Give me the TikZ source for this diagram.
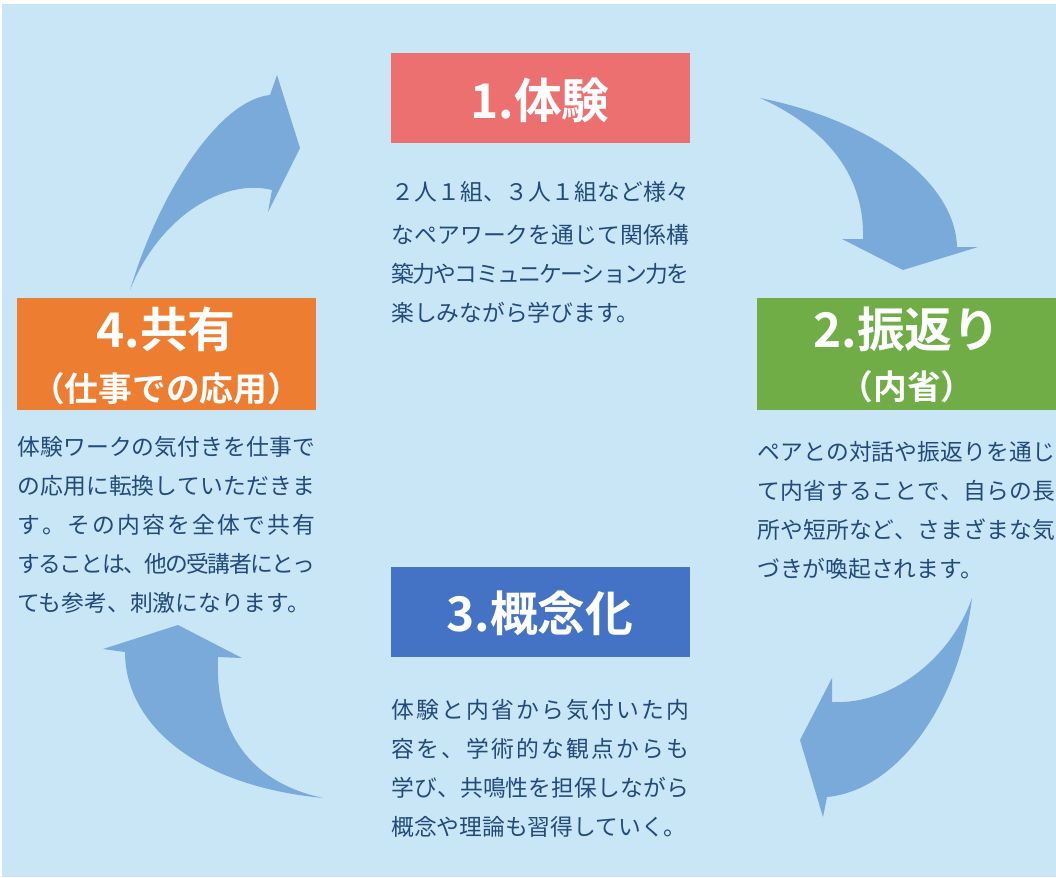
\documentclass[tikz,border=0pt]{standalone}
\usepackage{fontspec}
\setmainfont{Noto Sans CJK JP}
\newfontfamily\jpbold{Noto Sans CJK JP Bold}
\definecolor{bgblue}{RGB}{201,230,246}
\definecolor{arrblue}{RGB}{122,170,218}
\definecolor{redbox}{RGB}{236,112,112}
\definecolor{greenbox}{RGB}{112,173,71}
\definecolor{bluebox}{RGB}{68,114,196}
\definecolor{orangebox}{RGB}{237,125,49}
\definecolor{txtblue}{RGB}{34,74,122}
% justified line: glue between every character
\newcommand\jline[1]{\hbox to 7.45cm{\jfirst#1\relax}}
\def\jfirst#1{#1\jrest}
\def\jrest#1{\ifx#1\relax\else\hskip 0pt plus 1fil minus 1.2pt#1\expandafter\jrest\fi}
\begin{document}
\begin{tikzpicture}[x=0.025cm,y=-0.025cm,
  ttl/.style={text=white,font=\jpbold\fontsize{34}{38}\selectfont,inner sep=0pt},
  sub/.style={text=white,font=\jpbold\fontsize{24}{28}\selectfont,inner sep=0pt},
  body/.style={text=txtblue,font=\fontsize{16.2}{20}\selectfont,anchor=west,inner sep=0pt},
  cyc/.style={fill=arrblue,draw=none}]
\useasboundingbox (0,0) rectangle (1056,877);
\fill[white] (0,0) rectangle (1056,877);
\fill[bgblue] (2,4) rectangle (1056,877);
% boxes
\fill[redbox] (391,53) rectangle (690,143);
\fill[greenbox] (757,298) rectangle (1056,410);
\fill[bluebox] (391,567) rectangle (690,657);
\fill[orangebox] (17,298) rectangle (316,410);
% titles
\node[ttl] (t1) at (540,100) {1.体験};
\node[ttl] (t2) at (907,329) {2.振返り};
\node[sub] (s2) at (907,387) {（内省）};
\node[ttl] (t3) at (540,613) {3.概念化};
\node[ttl] (t4) at (166,329) {4.共有};
\node[sub] (s4) at (166,389) {（仕事での応用）};
% body texts
\node[body] (b11) at (391,192) {\jline{２人１組、３人１組など様々}};
\node[body] (b12) at (391,235) {\jline{なペアワークを通じて関係構}};
\node[body] (b13) at (391,274) {\jline{築力やコミュニケーション力を}};
\node[body] (b14) at (391,313) {楽しみながら学びます。};
\node[body] (b21) at (757,452) {\jline{ペアとの対話や振返りを通じ}};
\node[body] (b22) at (757,491) {\jline{て内省することで、自らの長}};
\node[body] (b23) at (757,530) {\jline{所や短所など、さまざまな気}};
\node[body] (b24) at (757,569) {づきが喚起されます。};
\node[body] (b31) at (391,710) {\jline{体験と内省から気付いた内}};
\node[body] (b32) at (391,749) {\jline{容を、学術的な観点からも}};
\node[body] (b33) at (391,788) {\jline{学び、共鳴性を担保しながら}};
\node[body] (b34) at (391,827) {概念や理論も習得していく。};
\node[body] (b41) at (17,447) {\jline{体験ワークの気付きを仕事で}};
\node[body] (b42) at (17,486) {\jline{の応用に転換していただきま}};
\node[body] (b43) at (17,525) {\jline{す。その内容を全体で共有}};
\node[body] (b44) at (17,564) {\jline{することは、他の受講者にとっ}};
\node[body] (b45) at (17,603) {ても参考、刺激になります。};
% cycle arrows
\fill[cyc] (130,290) .. controls (160,190) and (220,100) .. (270,95)
  -- (277,75) -- (300,148) -- (268,212) -- (272,190)
  .. controls (225,178) and (160,215) .. (130,290) -- cycle;
\fill[cyc] (760,98) .. controls (870,120) and (955,180) .. (957,247)
  -- (978,247) -- (903,270) -- (842,239) -- (863,239)
  .. controls (865,170) and (820,125) .. (760,98) -- cycle;
\fill[cyc] (972,598) .. controls (960,700) and (900,790) .. (827,797)
  -- (823,817) -- (800,740) -- (832,678) -- (832,702)
  .. controls (890,705) and (950,660) .. (972,598) -- cycle;
\fill[cyc] (323,798) .. controls (240,780) and (215,720) .. (218,657)
  -- (242,658) -- (178,625) -- (103,649) -- (125,652)
  .. controls (125,720) and (190,785) .. (323,798) -- cycle;
\end{tikzpicture}
\end{document}
